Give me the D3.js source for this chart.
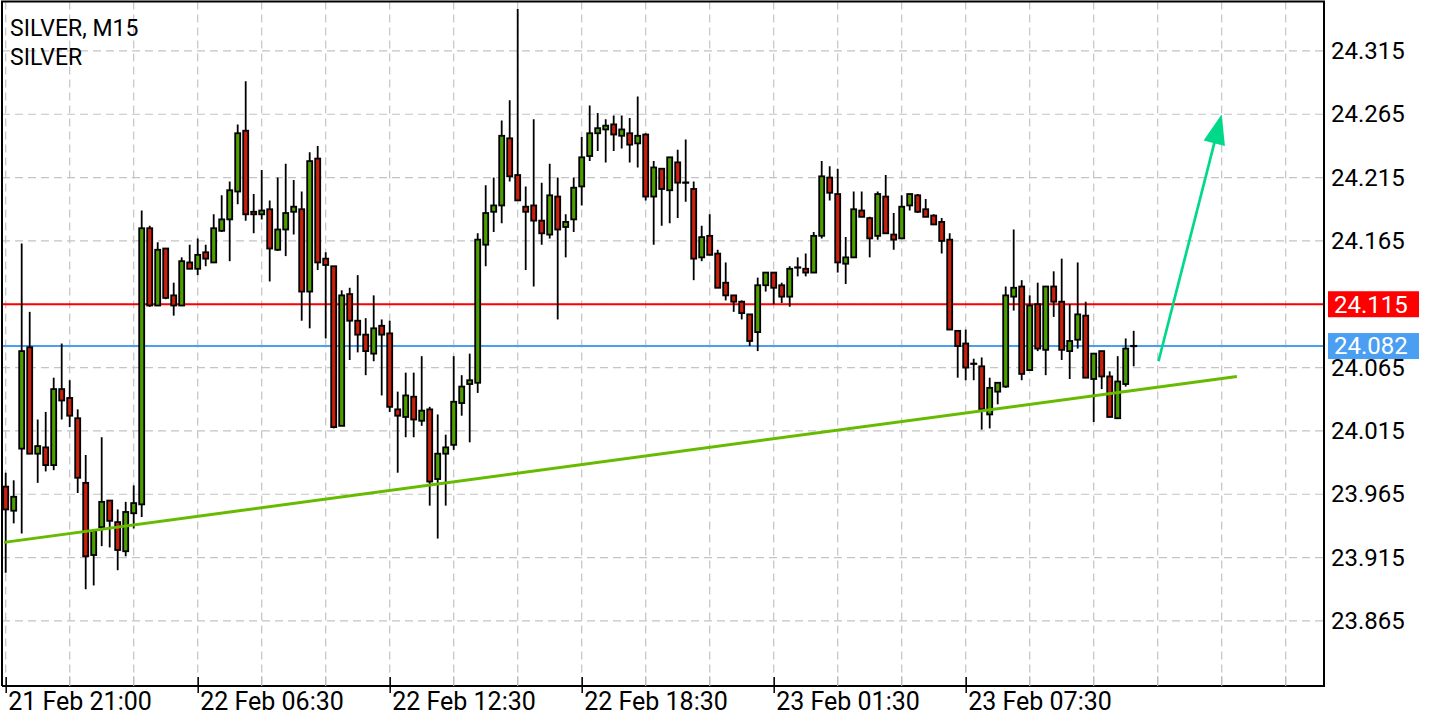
<!DOCTYPE html>
<html><head><meta charset="utf-8">
<script src="https://cdn.jsdelivr.net/npm/d3@7/dist/d3.min.js"></script>
<style>
body{margin:0;background:#fff;}
svg{display:block;font-family:Roboto,"Noto Sans",sans-serif;}
</style></head>
<body><svg id="chart" width="1440" height="720"></svg>
<script>
// ---- DATA (SILVER, M15) ----
const titleLines = ["SILVER, M15", "SILVER"];
const opens = [23.971,23.952,24.001,24.081,23.997,24.002,23.988,24.048,24.041,24.025,23.974,23.917,23.939,23.960,23.943,23.920,23.950,23.957,24.175,24.114,
24.159,24.122,24.114,24.148,24.143,24.156,24.148,24.173,24.182,24.204,24.252,24.188,24.186,24.190,24.158,24.174,24.188,24.190,24.125,24.230,
24.151,24.145,24.019,24.123,24.102,24.091,24.076,24.098,24.092,24.032,24.026,24.042,24.023,24.032,23.977,23.997,24.004,24.037,24.052,24.053,
24.162,24.188,24.193,24.246,24.217,24.192,24.193,24.181,24.170,24.200,24.176,24.182,24.208,24.232,24.250,24.253,24.257,24.248,24.250,24.242,
24.249,24.200,24.222,24.205,24.227,24.211,24.206,24.152,24.169,24.155,24.132,24.122,24.117,24.107,24.093,24.130,24.140,24.130,24.121,24.144,
24.143,24.140,24.169,24.215,24.202,24.147,24.152,24.189,24.183,24.169,24.200,24.170,24.167,24.193,24.201,24.190,24.185,24.180,24.166,24.094,
24.084,24.068,24.066,24.028,24.046,24.050,24.121,24.129,24.063,24.115,24.079,24.129,24.117,24.078,24.087,24.106,24.056,24.078,24.058,24.025,
24.052,24.082];
const highs = [23.982,23.976,24.163,24.109,24.024,24.030,24.057,24.084,24.055,24.032,23.996,23.936,24.010,23.960,23.953,23.959,23.972,24.189,24.177,24.164,
24.159,24.132,24.152,24.162,24.167,24.162,24.186,24.201,24.212,24.257,24.291,24.202,24.221,24.197,24.215,24.226,24.213,24.204,24.235,24.240,
24.156,24.145,24.126,24.128,24.138,24.104,24.122,24.103,24.102,24.046,24.061,24.061,24.074,24.034,24.028,24.012,24.074,24.059,24.076,24.171,
24.209,24.215,24.260,24.276,24.348,24.208,24.261,24.211,24.226,24.215,24.186,24.215,24.247,24.272,24.266,24.261,24.264,24.264,24.262,24.279,
24.250,24.228,24.222,24.231,24.237,24.245,24.212,24.177,24.186,24.158,24.148,24.122,24.118,24.107,24.136,24.140,24.140,24.132,24.145,24.152,
24.155,24.172,24.228,24.224,24.222,24.168,24.204,24.204,24.184,24.204,24.217,24.187,24.201,24.202,24.202,24.198,24.186,24.183,24.171,24.094,
24.095,24.072,24.073,24.057,24.053,24.129,24.174,24.134,24.122,24.132,24.129,24.141,24.151,24.115,24.148,24.117,24.076,24.078,24.062,24.074,
24.088,24.094];
const lows = [23.903,23.942,23.934,23.997,23.974,23.983,23.984,24.024,24.018,23.966,23.890,23.893,23.924,23.923,23.905,23.916,23.938,23.947,24.113,24.114,
24.119,24.106,24.114,24.143,24.138,24.145,24.148,24.172,24.149,24.194,24.181,24.171,24.182,24.133,24.157,24.153,24.170,24.102,24.096,24.142,
24.088,24.017,24.019,24.071,24.077,24.059,24.070,24.043,24.030,23.982,24.010,24.010,24.019,23.956,23.930,23.956,24.000,24.027,24.006,24.045,
24.145,24.172,24.179,24.212,24.197,24.142,24.129,24.162,24.167,24.103,24.152,24.172,24.193,24.228,24.236,24.227,24.236,24.238,24.227,24.223,
24.197,24.162,24.177,24.179,24.183,24.196,24.134,24.149,24.154,24.128,24.118,24.109,24.103,24.082,24.078,24.125,24.115,24.116,24.113,24.137,
24.137,24.140,24.167,24.197,24.140,24.131,24.152,24.184,24.152,24.166,24.171,24.158,24.167,24.189,24.187,24.184,24.178,24.155,24.095,24.057,
24.055,24.055,24.016,24.017,24.036,24.049,24.110,24.055,24.063,24.078,24.059,24.105,24.071,24.056,24.080,24.057,24.022,24.048,24.026,24.025,
24.050,24.066];
const closes = [23.953,23.963,24.078,23.997,24.003,23.988,24.048,24.039,24.027,23.978,23.916,23.936,23.959,23.944,23.921,23.951,23.958,24.175,24.114,24.158,
24.120,24.114,24.149,24.143,24.154,24.151,24.175,24.182,24.205,24.250,24.186,24.186,24.189,24.159,24.174,24.187,24.192,24.125,24.228,24.148,
24.146,24.018,24.122,24.102,24.091,24.078,24.096,24.091,24.034,24.027,24.043,24.024,24.031,23.975,23.997,24.002,24.038,24.050,24.055,24.166,
24.187,24.193,24.248,24.216,24.197,24.188,24.181,24.171,24.201,24.174,24.180,24.207,24.231,24.250,24.254,24.256,24.249,24.253,24.241,24.248,
24.200,24.223,24.206,24.231,24.211,24.211,24.151,24.168,24.154,24.128,24.122,24.117,24.108,24.086,24.130,24.140,24.128,24.121,24.143,24.144,
24.140,24.169,24.216,24.203,24.148,24.152,24.190,24.184,24.167,24.202,24.171,24.166,24.192,24.202,24.188,24.184,24.178,24.165,24.095,24.082,
24.065,24.068,24.032,24.049,24.053,24.122,24.128,24.060,24.114,24.080,24.129,24.117,24.079,24.086,24.107,24.057,24.076,24.058,24.026,24.054,
24.080,24.082];
const xLabelIndex = [0, 24, 48, 72, 96, 120];
const xLabels = ["21 Feb 21:00", "22 Feb 06:30", "22 Feb 12:30", "22 Feb 18:30", "23 Feb 01:30", "23 Feb 07:30"];
const yTicks = [23.865, 23.915, 23.965, 24.015, 24.065, 24.115, 24.165, 24.215, 24.265, 24.315];
const levelPrices = [24.115, 24.082];          // red level, blue (bid) level
const trendIdx = [-0.2, 153.9];
const trendPrice = [23.927, 24.058];
const arrowIdx = [144.1, 152.0];
const arrowPrice = [24.070, 24.265];

// ---- CHART ----
const svg = d3.select("#chart");
const L = 2, R = 1324, T = 1.5, B = 686;
const x = d3.scaleLinear().domain([0, 141]).range([5.7, 1133.7]);
const y = d3.scaleLinear().domain([23.8136, 24.3552]).range([B, 0]);
const candles = opens.map((o, i) => ({i, o, h: highs[i], l: lows[i], c: closes[i]}));

svg.append("defs").append("clipPath").attr("id", "plot")
  .append("rect").attr("x", L).attr("y", T).attr("width", R - L).attr("height", B - T);

const plot = svg.append("g").attr("clip-path", "url(#plot)");

// grid
const gridIdx = d3.range(0, 164, 8);
plot.append("g").selectAll("line").data(gridIdx).join("line")
  .attr("x1", d => x(d)).attr("x2", d => x(d)).attr("y1", T).attr("y2", B)
  .attr("stroke", "#c4c4c4").attr("stroke-width", 1.2).attr("stroke-dasharray", "8,5");
plot.append("g").selectAll("line").data(yTicks).join("line")
  .attr("x1", L).attr("x2", R).attr("y1", d => y(d)).attr("y2", d => y(d))
  .attr("stroke", "#c4c4c4").attr("stroke-width", 1.2).attr("stroke-dasharray", "8,5");

// level lines (behind candles)
const levelColors = ["#ff0000", "#4a9ff2"];
plot.append("g").selectAll("line").data(levelPrices).join("line")
  .attr("x1", L).attr("x2", R).attr("y1", d => y(d)).attr("y2", d => y(d))
  .attr("stroke", (d, k) => levelColors[k]).attr("stroke-width", 2);

// candles
const cg = plot.append("g");
cg.selectAll("line.wick").data(candles).join("line").attr("class", "wick")
  .attr("x1", d => x(d.i)).attr("x2", d => x(d.i))
  .attr("y1", d => y(d.h)).attr("y2", d => y(d.l))
  .attr("stroke", "#000").attr("stroke-width", 1.8);
const bw = 5;
cg.selectAll("rect").data(candles.filter(d => d.o !== d.c)).join("rect")
  .attr("x", d => x(d.i) - bw / 2).attr("width", bw)
  .attr("y", d => y(Math.max(d.o, d.c)))
  .attr("height", d => Math.max(1, y(Math.min(d.o, d.c)) - y(Math.max(d.o, d.c))))
  .attr("fill", d => d.c > d.o ? "#4e9c00" : "#c8200c")
  .attr("stroke", "#000").attr("stroke-width", 1.8);
cg.selectAll("line.doji").data(candles.filter(d => d.o === d.c)).join("line").attr("class", "doji")
  .attr("x1", d => x(d.i) - 3.5).attr("x2", d => x(d.i) + 3.5)
  .attr("y1", d => y(d.c)).attr("y2", d => y(d.c))
  .attr("stroke", "#000").attr("stroke-width", 2.2);

// trendline
plot.append("line")
  .attr("x1", x(trendIdx[0])).attr("y1", y(trendPrice[0]))
  .attr("x2", x(trendIdx[1])).attr("y2", y(trendPrice[1]))
  .attr("stroke", "#66bb00").attr("stroke-width", 3);

// arrow
const ax1 = x(arrowIdx[0]), ay1 = y(arrowPrice[0]), ax2 = x(arrowIdx[1]), ay2 = y(arrowPrice[1]);
const len = Math.hypot(ax2 - ax1, ay2 - ay1), ux = (ax2 - ax1) / len, uy = (ay2 - ay1) / len;
const headL = 30, headW = 11;
const bx = ax2 - ux * headL, by = ay2 - uy * headL;
plot.append("line").attr("x1", ax1).attr("y1", ay1).attr("x2", bx + ux * 4).attr("y2", by + uy * 4)
  .attr("stroke", "#00d98a").attr("stroke-width", 2.7);
plot.append("path")
  .attr("d", `M${ax2},${ay2}L${bx - uy * headW},${by + ux * headW}L${bx + uy * headW},${by - ux * headW}Z`)
  .attr("fill", "#00d98a");

// frame
svg.append("path").attr("d", `M${L},${B}V${T}H${R}V${B}H${L}`)
  .attr("fill", "none").attr("stroke", "#000").attr("stroke-width", 2);

// right axis (the label under the red level box is hidden, as in the original)
const yAxis = d3.axisRight(y).tickValues(yTicks).tickSize(0).tickPadding(7)
  .tickFormat(d => levelPrices.includes(d) ? "" : d3.format(".3f")(d));
const ya = svg.append("g").attr("transform", `translate(${R},0)`).call(yAxis);
ya.select(".domain").remove();
ya.selectAll("text").attr("font-size", 24).attr("font-family", "Roboto").attr("fill", "#000");

// price level labels
const lab = svg.append("g").selectAll("g").data(levelPrices).join("g");
lab.append("rect").attr("x", R + 4).attr("width", 91).attr("y", d => y(d) - 13).attr("height", 26)
  .attr("fill", (d, k) => levelColors[k]);
lab.append("text").attr("x", R + 10).attr("y", d => y(d)).attr("dy", "0.35em")
  .attr("font-size", 24).attr("fill", "#fff").text(d => d3.format(".3f")(d));

// bottom axis
const xAxis = d3.axisBottom(x).tickValues(xLabelIndex).tickSize(7).tickPadding(0)
  .tickFormat((d, k) => xLabels[k]);
const xa = svg.append("g").attr("transform", `translate(0,${B})`).call(xAxis);
xa.select(".domain").remove();
xa.selectAll(".tick line").attr("stroke", "#000").attr("stroke-width", 1.5).attr("y1", -9);
xa.selectAll("text").attr("text-anchor", "start").attr("dx", 2).attr("y", 24).attr("dy", 0)
  .attr("font-size", 25).attr("font-family", "Roboto").attr("fill", "#000");
svg.append("g").selectAll("line").data(gridIdx.filter(d => !xLabelIndex.includes(d))).join("line")
  .attr("x1", d => x(d)).attr("x2", d => x(d)).attr("y1", B - 10).attr("y2", B)
  .attr("stroke", "#bbb").attr("stroke-width", 1.2);

// title
svg.append("g").selectAll("text").data(titleLines).join("text")
  .attr("x", 10).attr("y", (d, k) => 36 + k * 29)
  .attr("font-size", 23).attr("fill", "#000").text(d => d);
</script>
</body></html>
